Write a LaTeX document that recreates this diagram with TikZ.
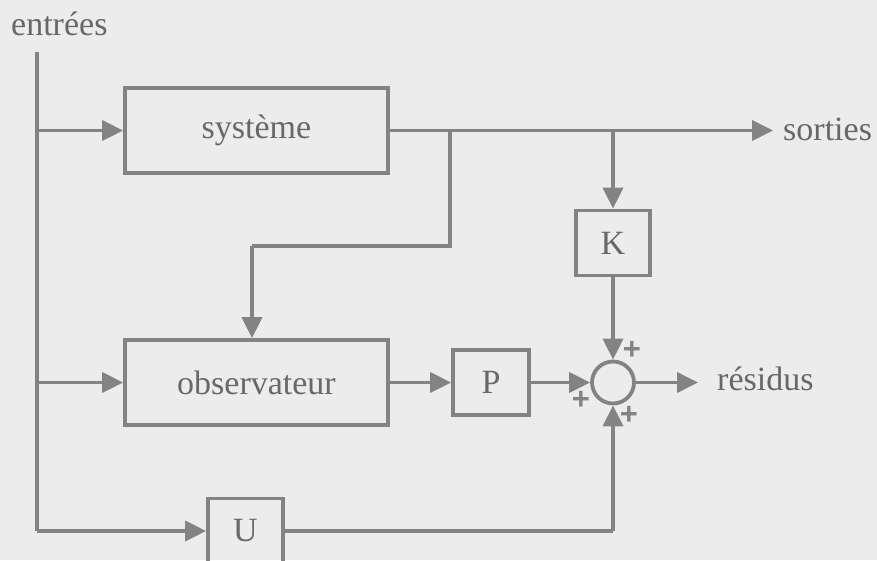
\documentclass[tikz,border=0pt]{standalone}
\usepackage{fontspec}
\setmainfont{Liberation Serif}
\newfontfamily\plusfont{Liberation Sans}
\usetikzlibrary{arrows.meta}
\definecolor{bg}{HTML}{ECECEC}
\definecolor{ln}{HTML}{838383}
\definecolor{tx}{HTML}{686868}
\begin{document}
\begin{tikzpicture}[x=1pt,y=-1pt,
  wire/.style={draw=ln,line width=3.8pt},
  arr/.style={wire,-{Triangle[length=21pt,width=20pt]}},
  blk/.style={draw=ln,line width=3.8pt,rectangle,inner sep=0pt,text=tx,font=\fontsize{34}{40}\selectfont},
  lbl/.style={inner sep=0pt,text=tx,font=\fontsize{34}{40}\selectfont},
  pls/.style={inner sep=0pt,text=ln,font=\plusfont\fontsize{31}{31}\selectfont\bfseries}]
\clip (0,0) rectangle (877,560);
\fill[bg] (0,0) rectangle (877,560);
\node[lbl,anchor=west] (ent) at (11,24) {entrées};
\node[blk,minimum width=263pt,minimum height=85pt] (sys) at (256.5,130.5) {système};
\node[blk,minimum width=263pt,minimum height=85pt] (obs) at (256.5,382.5) {observateur};
\node[blk,minimum width=74pt,minimum height=65pt] (K) at (613,243) {K};
\node[blk,minimum width=76pt,minimum height=65pt] (P) at (491,382.5) {P};
\node[blk,minimum width=75pt,minimum height=65pt] (U) at (245.5,531) {U};
\node[draw=ln,line width=3.8pt,circle,minimum size=42pt,inner sep=0pt] (sum) at (613,382.5) {};
\node[lbl,anchor=west] (sor) at (783,129) {sorties};
\node[lbl,anchor=west] (res) at (717,379) {résidus};
\node[pls] (p1) at (632,350) {+};
\node[pls] (p2) at (581,400) {+};
\node[pls] (p3) at (629,415) {+};
\coordinate (top) at (37,52);
\coordinate (bot) at (37,531);
\coordinate (b1) at (37,130.5);
\coordinate (b2) at (37,382.5);
\coordinate (o1) at (450,130.5);
\coordinate (o2) at (613,130.5);
\coordinate (oend) at (773,130.5);
\coordinate (fb) at (450,246);
\coordinate (fo) at (252,246);
\coordinate (rend) at (698,382.5);
\coordinate (ur) at (613,531);
\draw[wire] (top) -- (bot);
\draw[arr] (bot) -- (U.west);
\draw[arr] (b1) -- (sys.west);
\draw[arr] (b2) -- (obs.west);
\draw[arr] (sys.east) -- (oend);
\draw[wire] (o1) -- (fb) -- (fo);
\draw[arr] (fo) -- (fo |- obs.north);
\draw[arr] (o2) -- (K.north);
\draw[arr] (K.south) -- (sum.north);
\draw[arr] (obs.east) -- (P.west);
\draw[arr] (P.east) -- (sum.west);
\draw[arr] (sum.east) -- (rend);
\draw[wire] (U.east) -- (ur);
\draw[arr] (ur) -- (sum.south);
\end{tikzpicture}
\end{document}
